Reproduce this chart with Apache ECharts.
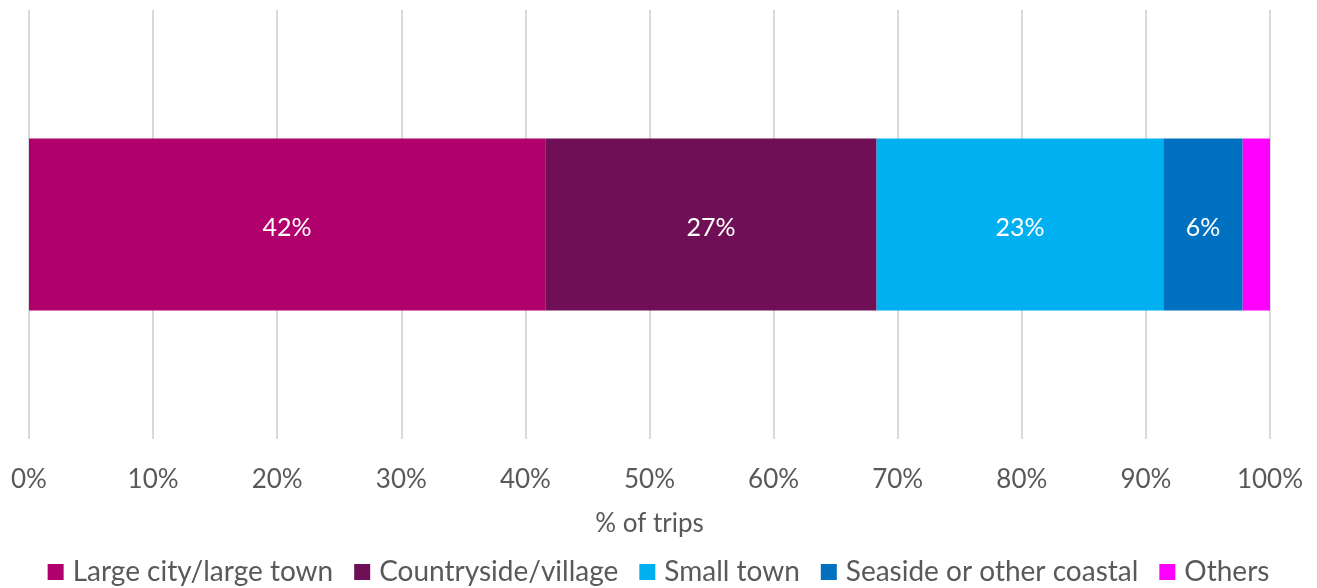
<!DOCTYPE html>
<html><head><meta charset="utf-8">
<script src="https://cdn.jsdelivr.net/npm/echarts@6/dist/echarts.min.js"></script>
<style>html,body{margin:0;padding:0;background:#fff}#c{width:1317px;height:588px}</style>
</head><body><div id="c"></div>
<script>
const categories = ['Trips'];
const seriesNames = ['Large city/large town','Countryside/village','Small town','Seaside or other coastal','Others'];
const largeCity = [41.6];
const countryside = [26.7];
const smallTown = [23.1];
const seaside = [6.4];
const others = [2.2];
const showLabel = [true, true, true, true, false];
const colors = ['#B0006B','#6F0F55','#00B0F0','#0070C0','#FF00FF'];
const values = [largeCity, countryside, smallTown, seaside, others];
const FONT = 'Lato';
const chart = echarts.init(document.getElementById('c'));
chart.setOption({
  animation:false,
  textStyle:{fontFamily:FONT},
  grid:{left:29,right:47,top:10,bottom:149,containLabel:false},
  xAxis:{type:'value',min:0,max:100,interval:10,
    name:'% of trips',nameLocation:'middle',nameGap:72,
    nameTextStyle:{color:'#595959',fontSize:26,fontFamily:FONT},
    axisLine:{show:false},axisTick:{show:false},
    axisLabel:{formatter:'{value}%',color:'#595959',fontSize:26,margin:28,fontFamily:FONT},
    splitLine:{lineStyle:{color:'#D9D9D9',width:2}}},
  yAxis:{type:'category',data:categories,show:false},
  legend:{bottom:-3,left:'center',itemWidth:16,itemHeight:16,itemGap:21,icon:'rect',
    textStyle:{color:'#595959',fontSize:28,fontFamily:FONT,padding:[0,0,0,4]}},
  series: seriesNames.map((n,i)=>({
    name:n,type:'bar',stack:'total',barWidth:172,data:values[i],
    itemStyle:{color:colors[i]},
    label:{show:showLabel[i],position:'inside',color:'#fff',fontSize:25,fontFamily:FONT,offset:[0,3],
      formatter:p=>Math.round(p.value)+'%'}
  }))
});
</script></body></html>
